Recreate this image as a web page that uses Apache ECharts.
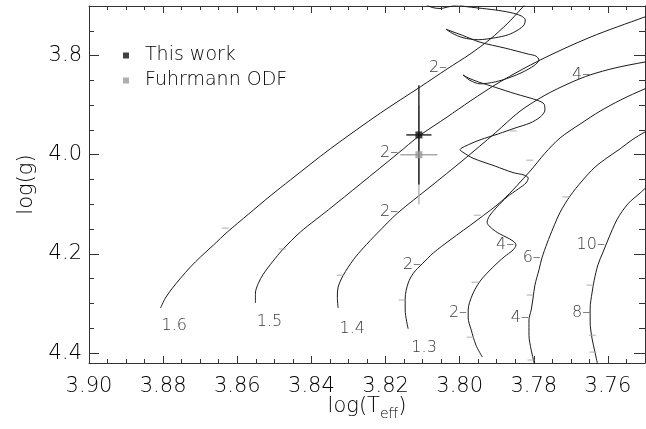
<!DOCTYPE html>
<html><head><meta charset="utf-8">
<script src="https://cdn.jsdelivr.net/npm/echarts@6/dist/echarts.min.js"></script>
<style>html,body{margin:0;padding:0;background:#fff}#c{width:646px;height:429px}</style>
</head><body><div id="c"></div>
<script>
// ---- axis ticks / labels ----
const xLabels = [3.90, 3.88, 3.86, 3.84, 3.82, 3.80, 3.78, 3.76];
const yLabels = [3.8, 4.0, 4.2, 4.4];

// ---- evolutionary tracks [log Teff, log g] ----
const track16 = [[3.8807,4.309],[3.8794,4.289],[3.8775,4.269],[3.8753,4.249],[3.8726,4.226],[3.8699,4.206],[3.8664,4.182],[3.8627,4.156],[3.8570,4.120],[3.8511,4.083],[3.8457,4.051],[3.8349,3.988],[3.8214,3.916],[3.8106,3.863],[3.8034,3.827],[3.7972,3.797],[3.7918,3.767],[3.7872,3.736],[3.7832,3.704],[3.7818,3.692]];
const track15 = [[3.8551,4.299],[3.8551,4.279],[3.8543,4.259],[3.8530,4.241],[3.8505,4.216],[3.8476,4.190],[3.8430,4.156],[3.8390,4.132],[3.8354,4.111],[3.8268,4.059],[3.8166,3.997],[3.8109,3.962],[3.8034,3.924],[3.7972,3.892],[3.7891,3.853],[3.7783,3.809],[3.7648,3.763],[3.7500,3.722],[3.7460,3.712]];
const track14 = [[3.8328,4.309],[3.8330,4.287],[3.8328,4.267],[3.8314,4.243],[3.8287,4.212],[3.8260,4.188],[3.8222,4.158],[3.8168,4.118],[3.8080,4.065],[3.7991,4.011],[3.7904,3.956],[3.7837,3.912],[3.7770,3.880],[3.7702,3.855],[3.7648,3.839],[3.7581,3.825],[3.7500,3.813],[3.7459,3.809]];
const track13 = [[3.8139,4.351],[3.8147,4.313],[3.8147,4.289],[3.8139,4.259],[3.8125,4.239],[3.8101,4.220],[3.8071,4.198],[3.8026,4.172],[3.7953,4.132],[3.7883,4.091],[3.7810,4.033],[3.7770,3.997],[3.7729,3.966],[3.7675,3.938],[3.7621,3.912],[3.7567,3.890],[3.7500,3.867],[3.7459,3.857]];
const track12 = [[3.7939,4.408],[3.7956,4.384],[3.7969,4.353],[3.7977,4.329],[3.7977,4.313],[3.7966,4.283],[3.7945,4.255],[3.7912,4.228],[3.7880,4.206],[3.7856,4.192],[3.7848,4.182],[3.7856,4.174],[3.7875,4.166],[3.7904,4.154],[3.7926,4.136],[3.7920,4.124],[3.7899,4.105],[3.7872,4.085],[3.7842,4.069],[3.7821,4.057],[3.7815,4.047],[3.7826,4.041],[3.7856,4.036],[3.7904,4.023],[3.7964,4.007],[3.7991,3.995],[3.7999,3.990],
  [3.7977,3.980],[3.7945,3.970],[3.7896,3.958],[3.7850,3.946],[3.7810,3.936],[3.7783,3.924],[3.7770,3.910],[3.7772,3.898],[3.7791,3.890],[3.7850,3.877],[3.7904,3.864],[3.7950,3.853],[3.7977,3.845],[3.7991,3.839],
  [3.7972,3.850],[3.7945,3.857],[3.7904,3.853],[3.7864,3.844],[3.7829,3.833],[3.7799,3.820],[3.7786,3.809],[3.7794,3.801],[3.7815,3.797],[3.7877,3.785],[3.7945,3.773],[3.7993,3.759],[3.8026,3.750],[3.8036,3.747],
  [3.8020,3.755],[3.7991,3.764],[3.7950,3.768],[3.7904,3.764],[3.7869,3.758],[3.7842,3.748],[3.7826,3.738],[3.7823,3.728],[3.7834,3.720],[3.7864,3.713],[3.7904,3.708],[3.7950,3.704],[3.7985,3.701],[3.8004,3.698],[3.8026,3.701],[3.8053,3.705],[3.8074,3.703],[3.8093,3.696]];
const track11 = [[3.7797,4.430],[3.7799,4.420],[3.7807,4.394],[3.7813,4.364],[3.7813,4.333],[3.7807,4.313],[3.7802,4.289],[3.7797,4.263],[3.7786,4.232],[3.7778,4.208],[3.7764,4.178],[3.7748,4.148],[3.7729,4.116],[3.7702,4.083],[3.7670,4.053],[3.7635,4.025],[3.7600,4.005],[3.7567,3.988],[3.7535,3.970],[3.7500,3.954],[3.7459,3.938]];
const track10 = [[3.7627,4.426],[3.7635,4.398],[3.7643,4.370],[3.7648,4.337],[3.7648,4.309],[3.7643,4.279],[3.7637,4.253],[3.7627,4.222],[3.7613,4.196],[3.7600,4.172],[3.7575,4.130],[3.7546,4.099],[3.7513,4.077],[3.7487,4.059]];

// ---- labels ----
const massLabels = [['1.6',3.8770,4.346],['1.5',3.8513,4.336],['1.4',3.8290,4.351],['1.3',3.8096,4.390]];
const ageLabels = [['2',3.8034,3.825],['2',3.8166,3.997],['2',3.8166,4.116],['2',3.8104,4.222],['2',3.7980,4.319],['4',3.7853,4.182],['4',3.7648,3.839],['6',3.7781,4.208],['4',3.7813,4.329],['10',3.7608,4.182],['8',3.7648,4.319]];
const grayTicks = [[3.8627,4.148],[3.8473,4.190],[3.8317,4.243],[3.8150,4.293],[3.7947,4.122],[3.7953,4.257],[3.7966,4.368],[3.7850,3.952],[3.7805,4.011],[3.7708,4.085],[3.7805,4.283],[3.7802,4.414],[3.7643,4.263],[3.7637,4.364],[3.7635,4.398]];

// ---- observations [logTeff, logg, errTeff, errLogg] ----
const thisWork = [3.811, 3.96, 0.0034, 0.10];
const fuhrmann = [3.811, 4.00, 0.0050, 0.10];

const FONT = 'DejaVu Sans';
const FW = 200;
const TXT = '#000';
const AX = '#333';
const chart = echarts.init(document.getElementById('c'), null, {renderer: 'canvas'});

function xAx(pos, major, labels) {
  return {
    type: 'value', min: 3.75, max: 3.90, inverse: true, position: pos,
    interval: major ? undefined : 0.005,
    axisLine: {show: major, onZero: false, lineStyle: {color: AX, width: 1}},
    axisTick: major ? {show: true, inside: true, length: 7, customValues: xLabels, lineStyle: {color: AX}}
                    : {show: true, inside: true, length: 4, lineStyle: {color: AX}},
    axisLabel: labels ? {show: true, customValues: xLabels, formatter: v => v.toFixed(2), fontFamily: FONT, fontWeight: FW, fontSize: 21, color: TXT, margin: 13}
                      : {show: false},
    splitLine: {show: false},
    name: labels ? '{m|log(T}{s|eff}{m|)}' : '',
    nameLocation: 'middle', nameGap: 33, nameMoveOverlap: false,
    nameTextStyle: {rich: {
      m: {fontFamily: FONT, fontWeight: FW, fontSize: 21, color: TXT, lineHeight: 24, verticalAlign: 'top'},
      s: {fontFamily: FONT, fontWeight: FW, fontSize: 14, color: TXT, lineHeight: 14, padding: [11, 0, 0, 0], verticalAlign: 'top'}
    }}
  };
}
function yAx(pos, major, labels) {
  return {
    type: 'value', min: 3.70, max: 4.42, inverse: true, position: pos,
    interval: major ? undefined : 0.05,
    axisLine: {show: major, onZero: false, lineStyle: {color: AX, width: 1}},
    axisTick: major ? {show: true, inside: true, length: pos === 'left' ? 10 : 11, customValues: yLabels, lineStyle: {color: AX}}
                    : {show: true, inside: true, length: pos === 'left' ? 5 : 6, lineStyle: {color: AX}},
    axisLabel: labels ? {show: true, customValues: yLabels, formatter: v => v.toFixed(1), fontFamily: FONT, fontWeight: FW, fontSize: 21, color: TXT, margin: 7}
                      : {show: false},
    splitLine: {show: false},
    name: labels ? 'log(g)' : '',
    nameLocation: 'middle', nameGap: 52, nameRotate: 90, nameMoveOverlap: false,
    nameTextStyle: {fontFamily: FONT, fontWeight: FW, fontSize: 21, color: TXT}
  };
}

function trackSeries(d) {
  return {type: 'line', data: d, showSymbol: false, symbol: 'none', smooth: 0.3, clip: true, silent: true,
    lineStyle: {color: '#1a1a1a', width: 1}, z: 2};
}

function errSeries(name, d, color, z) {
  return {
    type: 'custom', name: name + '_err', data: [d], z: z, silent: true, clip: true,
    renderItem: (params, api) => {
      const x = api.value(0), y = api.value(1), ex = api.value(2), ey = api.value(3);
      const l = api.coord([x + ex, y]), r = api.coord([x - ex, y]);
      const t = api.coord([x, y - ey]), b = api.coord([x, y + ey]);
      return {type: 'group', children: [
        {type: 'line', shape: {x1: l[0], y1: l[1], x2: r[0], y2: r[1]}, style: {stroke: color, lineWidth: 1.3}},
        {type: 'line', shape: {x1: t[0], y1: t[1], x2: b[0], y2: b[1]}, style: {stroke: color, lineWidth: 1.3}}
      ]};
    }
  };
}

const option = {
  animation: false,
  backgroundColor: '#fff',
  grid: {left: 89, top: 6, right: 1, bottom: 66, containLabel: false},
  xAxis: [xAx('bottom', true, true), xAx('bottom', false, false), xAx('top', true, false), xAx('top', false, false)],
  yAxis: [yAx('left', true, true), yAx('left', false, false), yAx('right', true, false), yAx('right', false, false)],
  legend: {
    show: true, left: 123, top: 46, orient: 'vertical', padding: 0, itemGap: 6,
    itemWidth: 6, itemHeight: 6, selectedMode: false,
    textStyle: {fontFamily: FONT, fontWeight: FW, fontSize: 19, color: TXT, lineHeight: 19, padding: [0, 0, 0, 11]},
    data: [{name: 'This work', icon: 'rect'}, {name: 'Fuhrmann ODF', icon: 'rect'}]
  },
  series: [
    trackSeries(track16), trackSeries(track15), trackSeries(track14), trackSeries(track13),
    trackSeries(track12), trackSeries(track11), trackSeries(track10),
    {type: 'scatter', data: grayTicks, symbol: 'rect', symbolSize: [7, 1.2], symbolOffset: [-2, 0],
     itemStyle: {color: '#aaa'}, silent: true, z: 3},
    {type: 'scatter', data: ageLabels.map(a => ({name: a[0], value: [a[1], a[2]]})), symbolSize: 0, silent: true, z: 4,
     label: {show: true, position: 'left', distance: 0, formatter: p => p.name + '–', fontFamily: FONT, fontWeight: FW, fontSize: 16, color: TXT}},
    {type: 'scatter', data: massLabels.map(a => ({name: a[0], value: [a[1], a[2]]})), symbolSize: 0, silent: true, z: 4,
     label: {show: true, position: 'inside', formatter: p => p.name, fontFamily: FONT, fontWeight: FW, fontSize: 16, color: TXT}},
    errSeries('Fuhrmann ODF', fuhrmann, '#aaa', 5),
    errSeries('This work', thisWork, '#111', 6),
    {type: 'scatter', name: 'Fuhrmann ODF', data: [[fuhrmann[0], fuhrmann[1]]], symbol: 'rect', symbolSize: 7,
     itemStyle: {color: '#9a9a9a'}, z: 7},
    {type: 'scatter', name: 'This work', data: [[thisWork[0], thisWork[1]]], symbol: 'rect', symbolSize: 7,
     itemStyle: {color: '#111'}, z: 8}
  ]
};
chart.setOption(option);
</script>
</body></html>
